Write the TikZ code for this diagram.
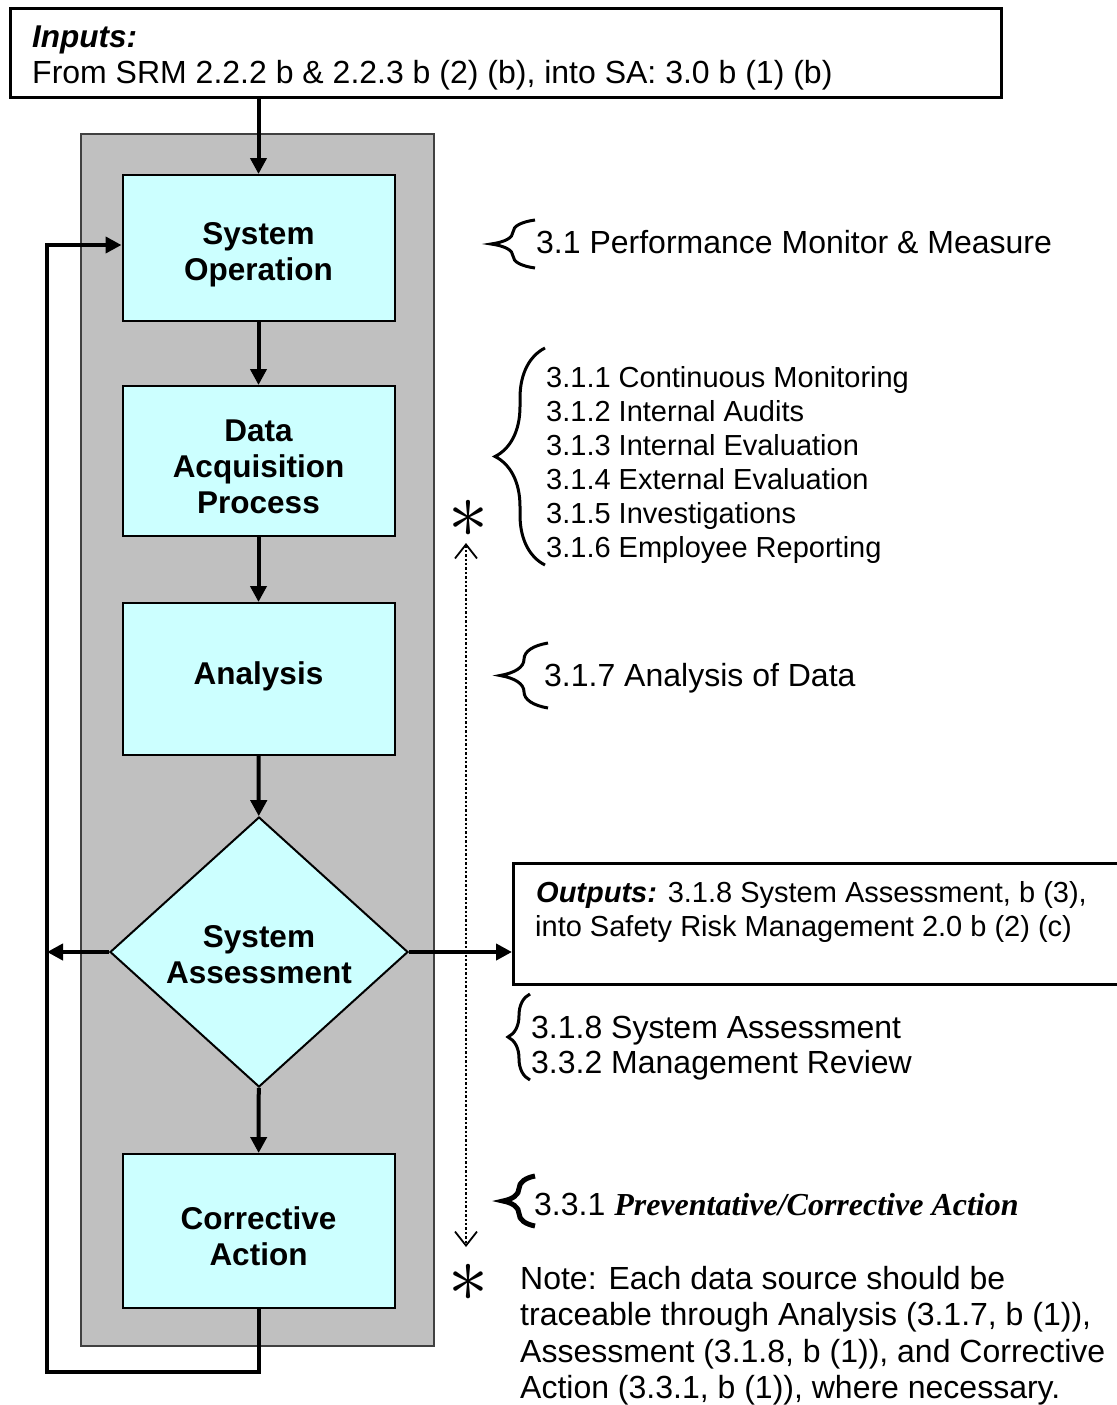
\documentclass[tikz,border=0pt]{standalone}
\usepackage{fontspec}
\usepackage{graphicx}
\setmainfont{Liberation Sans}
\newfontfamily\timesfont{Liberation Serif}
\usetikzlibrary{arrows.meta,shapes.geometric,decorations.pathreplacing}
\definecolor{boxcyan}{HTML}{CCFFFF}
\definecolor{panelgray}{HTML}{C0C0C0}
\newcommand{\boxlines}[2][0pt]{\raisebox{#1}[\height][\depth]{\begin{tabular}{@{}c@{}}#2\end{tabular}}}
\begin{document}
\begin{tikzpicture}[x=1pt,y=-1pt,
  procbox/.style={draw=black, line width=2pt, fill=boxcyan, minimum width=272pt, inner sep=0pt,
    align=center, font=\bfseries\fontsize{31.5}{36}\selectfont},
  decbox/.style={diamond, draw=black, line width=2pt, fill=boxcyan, minimum width=298pt, minimum height=270pt,
    inner sep=0pt, align=center, font=\bfseries\fontsize{31.5}{36}\selectfont},
  conn/.style={line width=4pt, -{Triangle[length=16pt,width=16pt]}},
  framebox/.style={draw=black, line width=3pt, inner sep=0pt},
  txt/.style={anchor=base west, inner sep=0pt, font=\fontsize{32}{36}\selectfont},
  smalltxt/.style={anchor=base west, inner sep=0pt, font=\fontsize{29}{34}\selectfont},
  bracestyle/.style={decorate, line width=3pt},
  star/.style={inner sep=0pt}
]
\useasboundingbox (0,0) rectangle (1116,1405);
\fill[white] (0,0) rectangle (1116,1405);

% gray panel
\node[draw=black!75, line width=1.5pt, fill=panelgray, minimum width=353pt, minimum height=1212pt,
  anchor=north west, inner sep=0pt] (panel) at (80,133) {};

% inputs box
\node[framebox, minimum width=991pt, minimum height=89pt, anchor=north west] (inputs) at (9,7) {};
\node[txt, font=\bfseries\itshape\fontsize{31.5}{36}\selectfont] (inlabel) at (32,48) {Inputs:};
\node[txt, font=\fontsize{32}{36}\selectfont] (intext) at (32,84) {From SRM 2.2.2 b \& 2.2.3 b (2) (b), into SA: 3.0 b (1) (b)};

% process nodes
\node[procbox, minimum height=146pt] (so) at (258.5,248) {\boxlines[-7pt]{System\\Operation}};
\node[procbox, minimum height=150pt] (da) at (258.5,461) {\boxlines[-9pt]{Data\\Acquisition\\Process}};
\node[procbox, minimum height=152pt] (an) at (258.5,679) {\boxlines[2pt]{Analysis}};
\node[decbox] (sa) at (259,952) {\boxlines[-6pt]{System\\Assessment}};
\node[procbox, minimum height=154pt] (ca) at (258.5,1231) {\boxlines[-9pt]{Corrective\\Action}};

% outputs box
\node[framebox, minimum width=610pt, minimum height=121pt, anchor=north west] (outbox) at (512,862) {};
\node[smalltxt] (outl1) at (536,902) {\textbf{\textit{Outputs:}} 3.1.8 System Assessment, b (3),};
\node[smalltxt] (outl2) at (535,936) {into Safety Risk Management 2.0 b (2) (c)};

% main flow
\draw[conn] (inputs.south -| so.north) -- (so.north);
\draw[conn] (so) -- (da);
\draw[conn] (da) -- (an);
\draw[conn] (an) -- (sa);
\draw[conn] (sa) -- (ca);

% feedback loop
\coordinate (fbcorner) at (47,1372);
\coordinate (fbtop) at (47,245);
\draw[conn] (ca.south) |- (fbcorner) -- (fbtop) -- (fbtop -| so.west);
\draw[conn] (sa.west) -- (sa.west -| fbcorner);
\draw[conn] (sa.east) -- (sa.east -| outbox.west);

% dotted traceability line
\coordinate (dtop) at (466,543);
\coordinate (dbot) at (466,1247);
\draw[line width=2.4pt, dash pattern=on 2.4pt off 2pt,
  {Straight Barb[length=14pt,width=22pt,line width=1.8pt]}-{Straight Barb[length=14pt,width=22pt,line width=1.8pt]}]
  (dtop) -- (dbot);
\node[star] (star1) at (468,519) {\scalebox{8}{$\ast$}};
\node[star] (star2) at (468,1283) {\scalebox{8}{$\ast$}};

% braces and labels
\draw[bracestyle, decoration={brace, amplitude=44pt}] (535,268) -- (535,220);
\node[txt] (l31) at (536,253) {3.1 Performance Monitor \& Measure};

\draw[bracestyle, decoration={brace, amplitude=50pt}] (545,565) -- (545,348);
\node[smalltxt] (l311) at (546,387) {3.1.1 Continuous Monitoring};
\node[smalltxt] (l312) at (546,421) {3.1.2 Internal Audits};
\node[smalltxt] (l313) at (546,455) {3.1.3 Internal Evaluation};
\node[smalltxt] (l314) at (546,489) {3.1.4 External Evaluation};
\node[smalltxt] (l315) at (546,523) {3.1.5 Investigations};
\node[smalltxt] (l316) at (546,557) {3.1.6 Employee Reporting};

\draw[bracestyle, decoration={brace, amplitude=48pt}] (548,708) -- (548,643);
\node[txt] (l317) at (544,686) {3.1.7 Analysis of Data};

\draw[bracestyle, decoration={brace, amplitude=22pt}] (530,1080) -- (530,994);
\node[txt] (l318) at (531,1038) {3.1.8 System Assessment};
\node[txt] (l332) at (531,1073) {3.3.2 Management Review};

\draw[bracestyle, line width=5pt, decoration={brace, amplitude=32pt}] (535,1226) -- (535,1176);
\node[txt] (l331) at (534,1215) {3.3.1 {\timesfont\bfseries\itshape Preventative/Corrective Action}};

% note
\node[txt] (n1) at (520,1289) {Note: Each data source should be};
\node[txt] (n2) at (520,1325) {traceable through Analysis (3.1.7, b (1)),};
\node[txt] (n3) at (520,1362) {Assessment (3.1.8, b (1)), and Corrective};
\node[txt] (n4) at (520,1398) {Action (3.3.1, b (1)), where necessary.};
\end{tikzpicture}
\end{document}
